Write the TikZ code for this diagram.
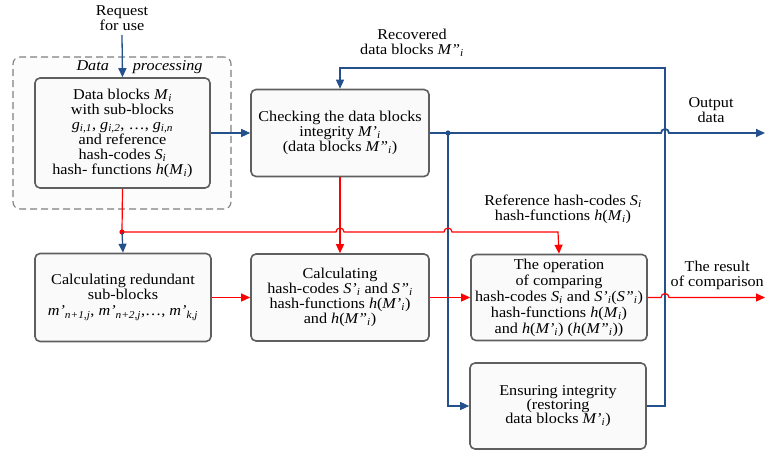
\documentclass[tikz,border=0pt]{standalone}
\usepackage{fontspec}
\setmainfont{Liberation Serif}[FakeStretch=1.08]
\usetikzlibrary{arrows.meta}
\definecolor{lnblue}{HTML}{24508C}
\definecolor{lnred}{HTML}{FF0000}
\definecolor{boxgray}{HTML}{5F5F5F}
\definecolor{dashgray}{HTML}{7F7F7F}
\definecolor{boxfill}{HTML}{FAFAFA}
\newcommand\sbi[1]{\textsubscript{\itshape #1}}
\tikzset{
  txt/.style={font=\fontsize{15}{15}\selectfont, align=center, inner sep=0pt},
  blockbox/.style={txt, draw=boxgray, line width=1.6pt, rounded corners=5pt, fill=boxfill},
  dpbox/.style={draw=dashgray, line width=1.1pt, dash pattern=on 7pt off 4pt, rounded corners=7pt, fill=boxfill!60!white},
  tip/.style={-{Triangle[length=9pt,width=8pt]}},
  bl/.style={draw=lnblue, line width=1.3pt},
  blthick/.style={draw=lnblue, line width=1.8pt},
  rd/.style={draw=lnred, line width=1.2pt},
}
\begin{document}
\begin{tikzpicture}[x=1pt,y=-1pt]
\useasboundingbox (0,0) rectangle (765,455);
% dashed group
\node[dpbox, minimum width=218pt, minimum height=152pt, inner sep=0pt] (dp) at (122,133) {};
\node[txt, font=\fontsize{15}{15}\selectfont\itshape] (dpl) at (139.5,67) {Data\hspace{24pt}processing};
% blocks
\node[blockbox, minimum width=175pt, minimum height=110pt] (b1) at (122.5,133)
 {Data blocks \textit{M}\sbi{i}\\ with sub-blocks\\ \textit{g}\sbi{i,1}, \textit{g}\sbi{i,2}, \dots, \textit{g}\sbi{i,n}\\ and reference\\ hash-codes \textit{S}\sbi{i}\\ hash- functions \textit{h}(\textit{M}\sbi{i})};
\node[blockbox, minimum width=178pt, minimum height=87pt] (b2) at (340,133)
 {Checking the data blocks\\ integrity \textit{M'}\sbi{i}\\ (data blocks \textit{M''}\sbi{i})};
\node[blockbox, minimum width=176pt, minimum height=88pt] (b3) at (123,297.5)
 {Calculating redundant\\ sub-blocks\\[1pt] \textit{m'}\sbi{n+1,j}, \textit{m'}\sbi{n+2,j},\dots, \textit{m'}\sbi{k,j}};
\node[blockbox, minimum width=178pt, minimum height=87pt] (b4) at (340,297.5)
 {Calculating\\ hash-codes \textit{S'}\sbi{i} and \textit{S''}\sbi{i}\\ hash-functions \textit{h}(\textit{M'}\sbi{i})\\ and \textit{h}(\textit{M''}\sbi{i})};
\node[blockbox, minimum width=176pt, minimum height=86pt, font=\fontsize{15}{16}\selectfont] (b5) at (559,297.5)
 {The operation\\ of comparing\\ hash-codes \textit{S}\sbi{i} and \textit{S'}\sbi{i}(\textit{S''}\sbi{i})\\ hash-functions \textit{h}(\textit{M}\sbi{i})\\ and \textit{h}(\textit{M'}\sbi{i}) (\textit{h}(\textit{M''}\sbi{i}))};
\node[blockbox, minimum width=176pt, minimum height=86pt, font=\fontsize{15}{14}\selectfont] (b6) at (558,406)
 {Ensuring integrity\\ (restoring\\ data blocks \textit{M'}\sbi{i})};
% labels
\node[txt] (req) at (122,18) {Request\\for use};
\node[txt] (rec) at (412,43) {Recovered\\data blocks \textit{M''}\sbi{i}};
\node[txt] (outl) at (711,110) {Output\\data};
\node[txt] (refl) at (563,209) {Reference hash-codes \textit{S}\sbi{i}\\hash-functions \textit{h}(\textit{M}\sbi{i})};
\node[txt, anchor=east] (resl) at (764,275) {The result\\of comparison};
% coordinates
\coordinate (reqend) at (122,35);
\coordinate (d1) at (448,133);
\coordinate (d2) at (122,232);
\coordinate (loopc) at (665,68);
\coordinate (out) at (765,133);
\coordinate (res) at (765,297.5);
\coordinate (h1) at (661,133);
\coordinate (h2) at (336,232);
\coordinate (h3) at (444,232);
\coordinate (h4) at (661,297.5);
\coordinate (refc) at (558,232);
% blue connectors
\draw[bl, tip] (reqend) -- (b1.north);
\draw[bl, tip] (b1.east) -- (b2.west);
\draw[blthick, tip] (b2.east) -- (h1) arc (180:0:4pt) -- (out);
\draw[bl, tip] (b6.east) -| (loopc) -| (b2.north);
\draw[bl, tip] (d1) |- (b6.west);
\fill[lnblue] (d1) circle (2.6pt);
% red connectors
\draw[rd] (b1.south) -- (d2);
\draw[rd, tip] (d2) -- (h2) arc (180:0:4pt) -- (h3) arc (180:0:4pt) -- (refc) -- (b5.north);
\fill[lnred] (d2) circle (2.6pt);
\draw[bl, tip] (d2) -- (b3.north);
\draw[rd, tip] (b2.south) -- (b4.north);
\draw[rd, tip] (b3.east) -- (b4.west);
\draw[rd, tip] (b4.east) -- (b5.west);
\draw[rd, tip] (b5.east) -- (h4) arc (180:0:4pt) -- (res);
\end{tikzpicture}
\end{document}
